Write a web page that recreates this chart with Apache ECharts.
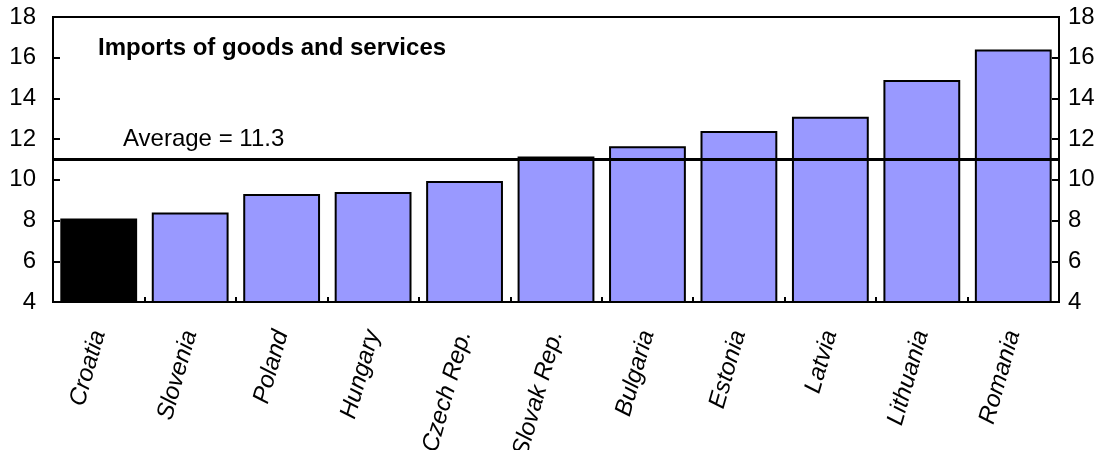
<!DOCTYPE html>
<html>
<head>
<meta charset="utf-8">
<script src="https://cdn.jsdelivr.net/npm/echarts@6/dist/echarts.min.js"></script>
<style>html,body{margin:0;padding:0;background:#fff}#c{width:1106px;height:450px}</style>
</head>
<body>
<div id="c"></div>
<script>
const categories = ["Croatia","Slovenia","Poland","Hungary","Czech Rep.","Slovak Rep.","Bulgaria","Estonia","Latvia","Lithuania","Romania"];
const values = [8.1, 8.4, 9.3, 9.4, 9.95, 11.15, 11.65, 12.4, 13.1, 14.9, 16.4];
const highlighted = ["Croatia"];
const averageLine = [11.0];
const averageLabel = "Average = 11.3";
const titleText = "Imports of goods and services";
const yTicks = [4, 18, 2]; // min, max, interval

const FONT = "Liberation Sans";
const chart = echarts.init(document.getElementById('c'), null, {renderer: 'canvas'});
const yAxisCommon = {
  type: 'value', min: yTicks[0], max: yTicks[1], interval: yTicks[2],
  splitLine: {show: false},
  axisLine: {show: true, lineStyle: {color: '#000', width: 2}},
  axisTick: {show: true, inside: true, length: 7, lineStyle: {color: '#000', width: 2}},
  axisLabel: {color: '#000', fontFamily: FONT, fontSize: 24}
};
chart.setOption({
  animation: false,
  backgroundColor: '#fff',
  grid: {left: 53, right: 47, top: 17, bottom: 148, show: true, borderColor: '#000', borderWidth: 2,
         containLabel: false, outerBoundsMode: 'none'},
  xAxis: {
    type: 'category', data: categories,
    axisLine: {show: true, lineStyle: {color: '#000', width: 2}},
    axisTick: {show: true, inside: true, length: 5, alignWithLabel: false, lineStyle: {color: '#000', width: 2}},
    axisLabel: {color: '#000', fontFamily: FONT, fontSize: 24, fontStyle: 'italic', rotate: 74, margin: 29, interval: 0, hideOverlap: false}
  },
  yAxis: [
    Object.assign({}, yAxisCommon, {position: 'left', axisLabel: Object.assign({}, yAxisCommon.axisLabel, {margin: 17})}),
    Object.assign({}, yAxisCommon, {position: 'right', axisLabel: Object.assign({}, yAxisCommon.axisLabel, {margin: 9})})
  ],
  series: [{
    type: 'bar', yAxisIndex: 0,
    barWidth: '84%',
    data: categories.map((c, i) => ({
      value: values[i],
      itemStyle: {color: highlighted.includes(c) ? '#000000' : '#9999FF', borderColor: '#000', borderWidth: 2}
    })),
    markLine: {
      silent: true, symbol: 'none', label: {show: false},
      lineStyle: {color: '#000', width: 3, type: 'solid'},
      data: averageLine.map(v => ({yAxis: v}))
    }
  }],
  graphic: [
    {type: 'text', x: 98, y: 48, style: {text: titleText, fontFamily: FONT, fontSize: 24, fontWeight: 'bold', fill: '#000', verticalAlign: 'middle'}},
    {type: 'text', x: 123, y: 139, style: {text: averageLabel, fontFamily: FONT, fontSize: 24, fill: '#000', verticalAlign: 'middle'}}
  ]
});
</script>
</body>
</html>
